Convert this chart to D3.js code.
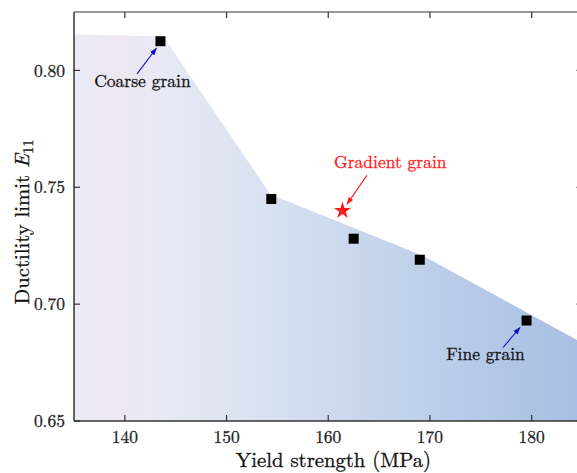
<!DOCTYPE html>
<html><head><meta charset="utf-8">
<script src="https://cdn.jsdelivr.net/npm/d3@7"></script>
<style>body{margin:0;background:#fff}svg{display:block}text{font-family:"Latin Modern Roman","Liberation Serif",serif}</style>
</head><body>
<svg id="c" width="577" height="473"></svg>
<script>
// data
const strength = [143.5, 154.4, 162.5, 169.0, 179.5];
const ductility = [0.8125, 0.745, 0.728, 0.719, 0.693];
const gradientPoint = [161.4, 0.740];
const envelopeX = [135, 143.8, 154.3, 169.4, 185];
const envelopeY = [0.8155, 0.8145, 0.747, 0.7205, 0.6834];
const xTicks = [140, 150, 160, 170, 180];
const yTicks = [0.65, 0.70, 0.75, 0.80];
const labels = [
  {text: "Coarse grain", tx: 141.73, ty: 0.7927, ax: 141.2, ay: 0.7985, bx: 143.1, by: 0.8095, color: "#1010d0"},
  {text: "Gradient grain", tx: 166.1, ty: 0.7581, ax: 163.8, ay: 0.7551, bx: 161.85, by: 0.7428, color: "#ff1a1a"},
  {text: "Fine grain", tx: 175.46, ty: 0.6761, ax: 177.2, ay: 0.6815, bx: 178.85, by: 0.6900, color: "#1010d0"}
];

const svg = d3.select("#c");
const m = {l: 74, t: 12, r: 582.5, b: 421};
const x = d3.scaleLinear().domain([135, 185]).range([m.l, m.r]);
const y = d3.scaleLinear().domain([0.65, 0.825]).range([m.b, m.t]);

const defs = svg.append("defs");
const g = defs.append("linearGradient").attr("id", "fillg")
  .attr("gradientUnits", "userSpaceOnUse").attr("x1", m.l).attr("x2", m.r).attr("y1", 0).attr("y2", 0);
[[0, "#e9ecf8"], [0.08, "#ede7f1"], [0.2, "#e6e9f5"], [0.4, "#d7e0f1"], [0.6, "#c5d4ec"], [0.8, "#b5cae7"], [1, "#a5bee2"]]
  .forEach(s => g.append("stop").attr("offset", s[0]).attr("stop-color", s[1]));
defs.append("clipPath").attr("id", "clip").append("rect")
  .attr("x", m.l).attr("y", m.t).attr("width", m.r - m.l).attr("height", m.b - m.t);
defs.append("marker").attr("id", "arB").attr("viewBox", "0 0 10 10").attr("refX", 9).attr("refY", 5)
  .attr("markerWidth", 7).attr("markerHeight", 7).attr("orient", "auto")
  .append("path").attr("d", "M0,1.5L10,5L0,8.5z").attr("fill", "#1010d0");
defs.append("marker").attr("id", "arR").attr("viewBox", "0 0 10 10").attr("refX", 9).attr("refY", 5)
  .attr("markerWidth", 7).attr("markerHeight", 7).attr("orient", "auto")
  .append("path").attr("d", "M0,1.5L10,5L0,8.5z").attr("fill", "#ff1a1a");

const env = envelopeX.map((v, i) => [v, envelopeY[i]]);
const area = d3.area().x(d => x(d[0])).y0(y(0.65)).y1(d => y(d[1]));
svg.append("path").attr("clip-path", "url(#clip)").attr("d", area(env)).attr("fill", "url(#fillg)");

// points
svg.selectAll("rect.pt").data(strength).enter().append("rect").attr("class", "pt")
  .attr("x", (d) => x(d) - 5).attr("y", (d, i) => y(ductility[i]) - 5)
  .attr("width", 10).attr("height", 10).attr("fill", "#000");

svg.append("path").attr("d", d3.symbol(d3.symbolStar, 90)())
  .attr("transform", `translate(${x(gradientPoint[0])},${y(gradientPoint[1])})`).attr("fill", "#ff1a1a");

// annotations
labels.forEach(l => {
  const red = l.color === "#ff1a1a";
  svg.append("line").attr("x1", x(l.ax)).attr("y1", y(l.ay)).attr("x2", x(l.bx)).attr("y2", y(l.by))
    .attr("stroke", l.color).attr("stroke-width", 1.1)
    .attr("marker-end", red ? "url(#arR)" : "url(#arB)");
  const c = red ? "#ff1a1a" : "#111";
  svg.append("text").attr("x", x(l.tx)).attr("y", y(l.ty)).attr("text-anchor", "middle")
    .attr("font-size", 17.5).attr("fill", c).attr("stroke", c).attr("stroke-width", 0.3).text(l.text);
});

// axes
const ax = svg.append("g").attr("stroke", "#333").attr("fill", "none");
ax.append("line").attr("x1", m.l).attr("x2", m.r).attr("y1", m.b).attr("y2", m.b).attr("stroke-width", 1.5);
ax.append("line").attr("x1", m.l).attr("x2", m.r).attr("y1", m.t).attr("y2", m.t).attr("stroke-width", 1.2);
ax.append("line").attr("x1", m.l).attr("x2", m.l).attr("y1", m.t).attr("y2", m.b).attr("stroke-width", 1.5);
ax.append("line").attr("x1", m.r).attr("x2", m.r).attr("y1", m.t).attr("y2", m.b).attr("stroke-width", 1.2);
xTicks.forEach(t => {
  ax.append("line").attr("x1", x(t)).attr("x2", x(t)).attr("y1", m.b).attr("y2", m.b - 6).attr("stroke-width", 1.2);
  ax.append("line").attr("x1", x(t)).attr("x2", x(t)).attr("y1", m.t).attr("y2", m.t + 6).attr("stroke-width", 1.2);
  svg.append("text").attr("x", x(t)).attr("y", m.b + 22).attr("text-anchor", "middle")
    .attr("font-size", 17.5).attr("fill", "#222").attr("stroke", "#222").attr("stroke-width", 0.3).text(t);
});
yTicks.forEach(t => {
  ax.append("line").attr("x1", m.l).attr("x2", m.l + 6).attr("y1", y(t)).attr("y2", y(t)).attr("stroke-width", 1.2);
  ax.append("line").attr("x1", m.r).attr("x2", m.r - 6).attr("y1", y(t)).attr("y2", y(t)).attr("stroke-width", 1.2);
  svg.append("text").attr("x", m.l - 9).attr("y", y(t)).attr("dy", "0.35em").attr("text-anchor", "end")
    .attr("font-size", 17.5).attr("fill", "#222").attr("stroke", "#222").attr("stroke-width", 0.3).text(d3.format(".2f")(t));
});

svg.append("text").attr("x", 333.5).attr("y", 467).attr("text-anchor", "middle")
  .attr("font-size", 20.7).attr("fill", "#111").attr("stroke", "#111").attr("stroke-width", 0.3).text("Yield strength (MPa)");
const yl = svg.append("text").attr("transform", "translate(29,222) rotate(-90)").attr("text-anchor", "middle")
  .attr("font-size", 20.7).attr("fill", "#111").attr("stroke", "#111").attr("stroke-width", 0.3);
yl.append("tspan").text("Ductility limit ");
yl.append("tspan").attr("font-style", "italic").text("E");
yl.append("tspan").attr("font-size", 14.5).attr("dy", 4).text("11");
</script>
</body></html>
